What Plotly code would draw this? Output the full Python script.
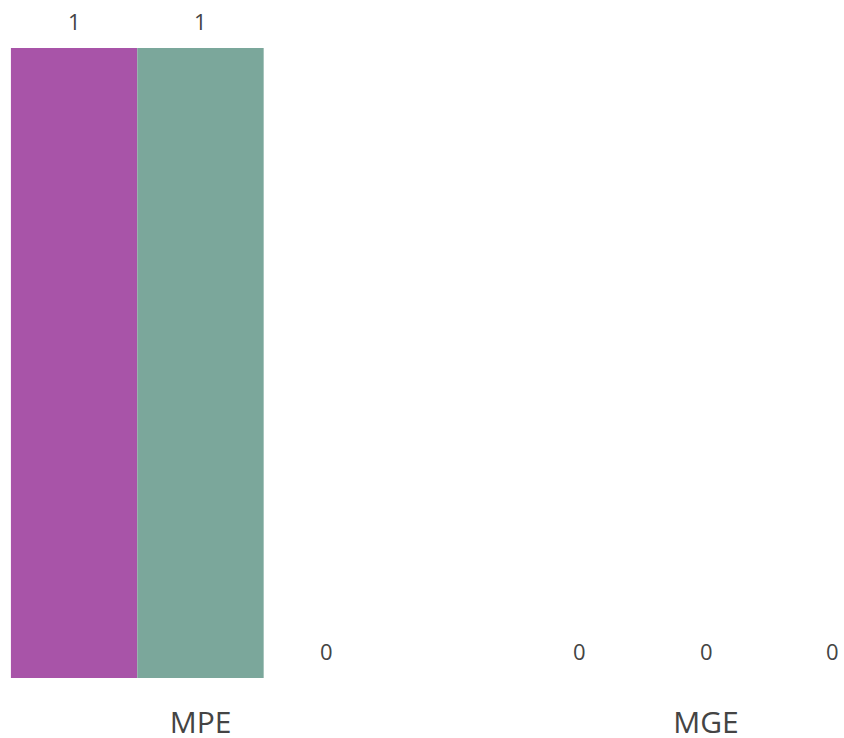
import plotly.graph_objects as go

categories = ["MPE", "MGE"]
series_names = ["Series A", "Series B", "Series C"]
series_values = [
    [1, 0],
    [1, 0],
    [0, 0],
]
series_colors = ["#A854A8", "#7BA79B", "#5B8DB8"]

BARGAP = 0.25
X_RANGE = [-0.3966, 1.2730]
FIG_W, FIG_H = 844, 738
MARGIN = dict(l=0, r=0, t=48, b=60)

fig = go.Figure()
for name, vals, col in zip(series_names, series_values, series_colors):
    fig.add_trace(go.Bar(
        x=categories, y=vals, name=name,
        marker=dict(color=col, line=dict(width=0)),
        hoverinfo="x+y+name",
    ))

# value labels placed above each bar end
px_per_unit = (FIG_W - MARGIN["l"] - MARGIN["r"]) / (X_RANGE[1] - X_RANGE[0])
n = len(series_names)
bar_px = (1 - BARGAP) / n * px_per_unit
annotations = []
for i, vals in enumerate(series_values):
    for cat, v in zip(categories, vals):
        annotations.append(dict(
            x=cat, y=v, xref="x", yref="y", text=str(v), showarrow=False,
            xshift=(i - (n - 1) / 2) * bar_px, yshift=27, yanchor="middle",
            font=dict(family="Open Sans", size=22, color="#444"),
        ))

fig.update_layout(
    width=FIG_W, height=FIG_H,
    barmode="group", bargap=BARGAP, bargroupgap=0,
    showlegend=False,
    paper_bgcolor="white", plot_bgcolor="white",
    margin=dict(MARGIN, autoexpand=False),
    font=dict(family="Open Sans", color="#444"),
    annotations=annotations,
    xaxis=dict(range=X_RANGE, showgrid=False, showline=False, zeroline=False,
               tickfont=dict(family="Open Sans", size=30, color="#444"), ticks="",
               ticklabelstandoff=24, automargin=False),
    yaxis=dict(range=[0, 1], visible=False, showgrid=False, zeroline=False,
               automargin=False),
)

fig.write_html("out.html", config={"displayModeBar": False},
               post_script="document.body.style.margin='0';")
